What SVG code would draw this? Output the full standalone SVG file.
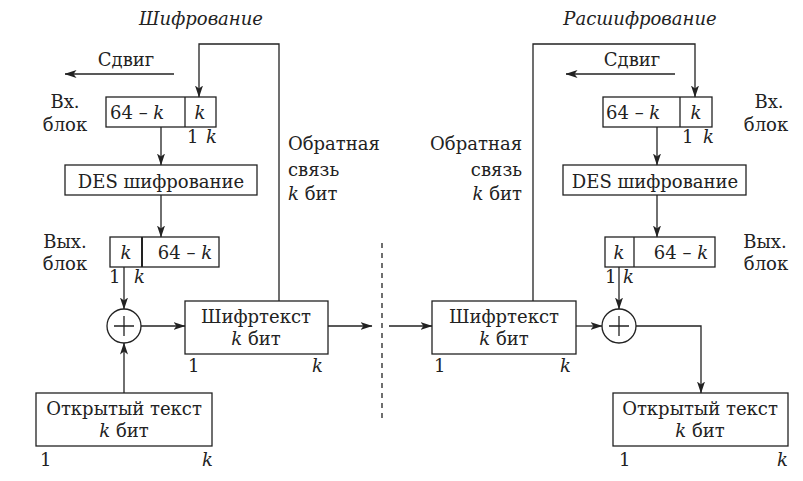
<svg xmlns="http://www.w3.org/2000/svg" width="803" height="481" viewBox="0 0 803 481">
  <style>
    .box { fill: #fff; stroke: #222; stroke-width: 1.3; }
    .ln { fill: none; stroke: #222; stroke-width: 1.3; }
    .arr { fill: none; stroke: #222; stroke-width: 1.3; marker-end: url(#ah); }
    .t { font-family: 'DejaVu Serif', 'Liberation Serif', serif; font-size: 18px; fill: #222; }
    .i { font-style: italic; }
    .c { text-anchor: middle; }
    .r { text-anchor: end; }
  </style>
  <defs>
    <marker id="ah" viewBox="0 0 12 8" refX="11.5" refY="4" markerWidth="12" markerHeight="8" markerUnits="userSpaceOnUse" orient="auto">
      <path d="M0,0 L12,4 L0,8 L3,4 Z" fill="#222"/>
    </marker>
  </defs>

  <!-- ===== Encryption side ===== -->
  <text class="t i c" x="201" y="25">Шифрование</text>

  <g id="enc-shift">
    <text class="t c" x="126" y="66">Сдвиг</text>
  </g>

  <g id="enc-input">
    <text class="t c" x="65" y="108">Вх.</text>
    <text class="t c" x="65" y="131">блок</text>
    <rect class="box" x="106" y="97" width="110" height="30"/>
    <line class="ln" x1="185" y1="97" x2="185" y2="127"/>
    <text class="t" x="110" y="119">64 – <tspan class="i">k</tspan></text>
    <text class="t i c" x="200" y="119">k</text>
    <text class="t" x="187" y="143">1</text>
    <text class="t i" x="206" y="143">k</text>
  </g>

  <g id="enc-des">
    <rect class="box" x="65" y="165" width="192" height="30"/>
    <text class="t c" x="161" y="188">DES шифрование</text>
  </g>

  <g id="enc-output">
    <text class="t c" x="65" y="248">Вых.</text>
    <text class="t c" x="65" y="270">блок</text>
    <rect class="box" x="110" y="237" width="109" height="30"/>
    <line class="ln" x1="142" y1="237" x2="142" y2="267" style="stroke-width:2"/>
    <text class="t i c" x="126" y="259">k</text>
    <text class="t c" x="185" y="259">64 – <tspan class="i">k</tspan></text>
    <text class="t" x="109" y="283">1</text>
    <text class="t i" x="134" y="283">k</text>
  </g>

  <g id="enc-xor">
    <circle class="box" cx="124" cy="326" r="17"/>
    <path class="ln" d="M124,316 V336 M114,326 H134"/>
  </g>

  <g id="enc-cipher">
    <rect class="box" x="185" y="301" width="143" height="53"/>
    <text class="t c" x="256" y="323">Шифртекст</text>
    <text class="t c" x="256" y="345"><tspan class="i">k</tspan> бит</text>
    <text class="t" x="188" y="372">1</text>
    <text class="t i" x="312" y="372">k</text>
  </g>

  <g id="enc-plain">
    <rect class="box" x="36" y="393" width="176" height="53"/>
    <text class="t c" x="124" y="415">Открытый текст</text>
    <text class="t c" x="124" y="437"><tspan class="i">k</tspan> бит</text>
    <text class="t" x="40" y="466">1</text>
    <text class="t i" x="202" y="466">k</text>
  </g>

  <g id="enc-feedback-label">
    <text class="t" x="288" y="150">Обратная</text>
    <text class="t" x="288" y="176">связь</text>
    <text class="t" x="288" y="200"><tspan class="i">k</tspan> бит</text>
  </g>

  <!-- ===== Decryption side ===== -->
  <text class="t i c" x="640" y="25">Расшифрование</text>

  <g id="dec-shift">
    <text class="t c" x="632" y="66">Сдвиг</text>
  </g>

  <g id="dec-input">
    <text class="t c" x="769" y="108">Вх.</text>
    <text class="t c" x="766" y="131">блок</text>
    <rect class="box" x="603" y="97" width="109" height="30"/>
    <line class="ln" x1="680" y1="97" x2="680" y2="127"/>
    <text class="t" x="606" y="119">64 – <tspan class="i">k</tspan></text>
    <text class="t i c" x="696" y="119">k</text>
    <text class="t" x="682" y="143">1</text>
    <text class="t i" x="703" y="143">k</text>
  </g>

  <g id="dec-des">
    <rect class="box" x="563" y="165" width="183" height="30"/>
    <text class="t c" x="655" y="188">DES шифрование</text>
  </g>

  <g id="dec-output">
    <text class="t c" x="765" y="248">Вых.</text>
    <text class="t c" x="766" y="270">блок</text>
    <rect class="box" x="605" y="237" width="110" height="30"/>
    <line class="ln" x1="634" y1="237" x2="634" y2="267"/>
    <text class="t i c" x="619" y="259">k</text>
    <text class="t c" x="681" y="259">64 – <tspan class="i">k</tspan></text>
    <text class="t" x="605" y="283">1</text>
    <text class="t i" x="623" y="283">k</text>
  </g>

  <g id="dec-xor">
    <circle class="box" cx="619" cy="326" r="17"/>
    <path class="ln" d="M619,316 V336 M609,326 H629"/>
  </g>

  <g id="dec-cipher">
    <rect class="box" x="432" y="301" width="144" height="53"/>
    <text class="t c" x="504" y="323">Шифртекст</text>
    <text class="t c" x="504" y="345"><tspan class="i">k</tspan> бит</text>
    <text class="t" x="434" y="372">1</text>
    <text class="t i" x="560" y="372">k</text>
  </g>

  <g id="dec-plain">
    <rect class="box" x="613" y="393" width="175" height="53"/>
    <text class="t c" x="700" y="415">Открытый текст</text>
    <text class="t c" x="700" y="437"><tspan class="i">k</tspan> бит</text>
    <text class="t" x="619" y="466">1</text>
    <text class="t i" x="777" y="466">k</text>
  </g>

  <g id="dec-feedback-label">
    <text class="t r" x="522" y="150">Обратная</text>
    <text class="t r" x="522" y="176">связь</text>
    <text class="t r" x="522" y="200"><tspan class="i">k</tspan> бит</text>
  </g>

  <!-- ===== Connectors ===== -->
  <g id="connectors">
    <!-- encryption -->
    <path class="arr" d="M279,301 V44 H199 V97"/>
    <path class="arr" d="M174,74 H65"/>
    <path class="arr" d="M161,127 V165"/>
    <path class="arr" d="M161,195 V237"/>
    <path class="arr" d="M124,267 V309"/>
    <path class="arr" d="M124,393 V343"/>
    <path class="arr" d="M141,326 H185"/>
    <path class="arr" d="M328,326 H372"/>
    <!-- channel boundary -->
    <line class="ln" x1="382" y1="243" x2="382" y2="423" stroke-dasharray="5,5"/>
    <!-- decryption -->
    <path class="arr" d="M389,326 H432"/>
    <path class="arr" d="M533,301 V44 H695 V97"/>
    <path class="arr" d="M675,74 H566"/>
    <path class="arr" d="M657,127 V165"/>
    <path class="arr" d="M657,195 V237"/>
    <path class="arr" d="M619,267 V309"/>
    <path class="arr" d="M576,326 H602"/>
    <path class="arr" d="M636,326 H701 V393"/>
  </g>
</svg>
